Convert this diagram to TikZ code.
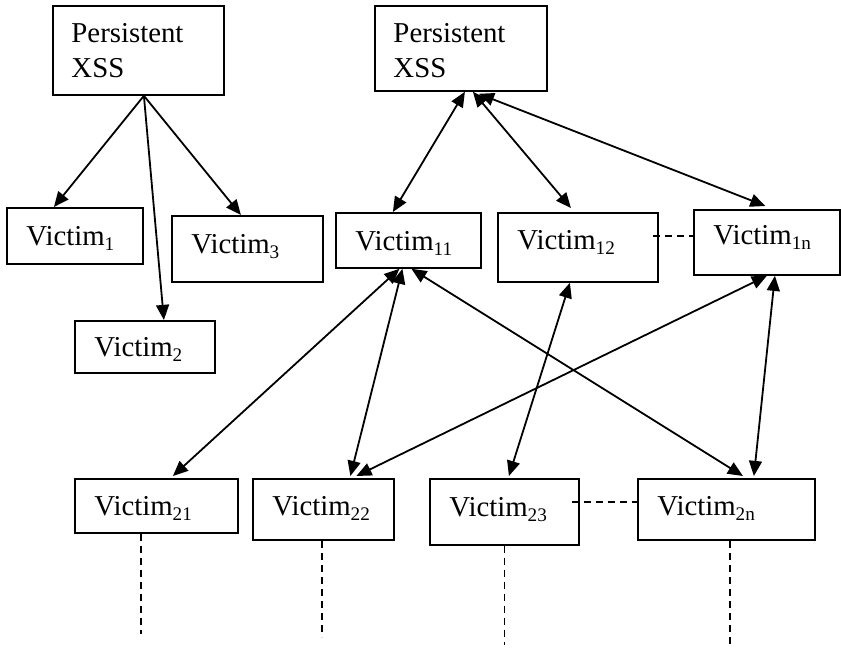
\documentclass[tikz,border=0pt]{standalone}
\usepackage{fontspec}
\setmainfont{Liberation Serif}
\usetikzlibrary{arrows.meta,calc}
\newcommand\pxu{0.41667pt}
\begin{document}
\begin{tikzpicture}[x=0.41667pt,y=-0.41667pt,
  box/.style={draw,line width=0.75pt,rectangle,inner sep=0pt,anchor=north west},
  lbl/.style={anchor=base west,inner sep=0pt,font=\fontsize{12}{14.4}\selectfont},
  arr/.style={line width=0.75pt,-{Triangle[length=6.3pt,width=5.4pt]}},
  darr/.style={line width=0.75pt,{Triangle[length=6.3pt,width=5.4pt]}-{Triangle[length=6.3pt,width=5.4pt]}},
  dline/.style={line width=0.75pt,dash pattern=on 3pt off 2pt}]
\useasboundingbox (0,0) rectangle (841,648);
% boxes
\node[box,minimum width=171*\pxu,minimum height=89*\pxu] (pl) at (52,5) {};
\node[box,minimum width=172*\pxu,minimum height=85*\pxu] (pr) at (374,5) {};
\node[box,minimum width=136*\pxu,minimum height=56*\pxu] (v1) at (6,207) {};
\node[box,minimum width=151*\pxu,minimum height=66*\pxu] (v3) at (171,215) {};
\node[box,minimum width=140*\pxu,minimum height=52*\pxu] (v2) at (74,320) {};
\node[box,minimum width=145*\pxu,minimum height=55*\pxu] (v11) at (335,212) {};
\node[box,minimum width=160*\pxu,minimum height=69*\pxu] (v12) at (497,212) {};
\node[box,minimum width=146*\pxu,minimum height=65*\pxu] (v1n) at (693,209) {};
\node[box,minimum width=163*\pxu,minimum height=54*\pxu] (v21) at (74,478) {};
\node[box,minimum width=141*\pxu,minimum height=61*\pxu] (v22) at (252,478) {};
\node[box,minimum width=149*\pxu,minimum height=66*\pxu] (v23) at (429,478) {};
\node[box,minimum width=177*\pxu,minimum height=61*\pxu] (v2n) at (637,478) {};
% labels
\node[lbl] (tpl1) at ($(pl.north west)+(19,38)$) {Persistent};
\node[lbl] (tpl2) at ($(pl.north west)+(19,73)$) {XSS};
\node[lbl] (tpr1) at ($(pr.north west)+(19,38)$) {Persistent};
\node[lbl] (tpr2) at ($(pr.north west)+(19,73)$) {XSS};
\node[lbl] (tv1) at ($(v1.north west)+(20,39)$) {Victim\textsubscript{1}};
\node[lbl] (tv3) at ($(v3.north west)+(20,39)$) {Victim\textsubscript{3}};
\node[lbl] (tv2) at ($(v2.north west)+(20,37)$) {Victim\textsubscript{2}};
\node[lbl] (tv11) at ($(v11.north west)+(20,39)$) {Victim\textsubscript{11}};
\node[lbl] (tv12) at ($(v12.north west)+(20,38)$) {Victim\textsubscript{12}};
\node[lbl] (tv1n) at ($(v1n.north west)+(20,36)$) {Victim\textsubscript{1n}};
\node[lbl] (tv21) at ($(v21.north west)+(20,38)$) {Victim\textsubscript{21}};
\node[lbl] (tv22) at ($(v22.north west)+(20,38)$) {Victim\textsubscript{22}};
\node[lbl] (tv23) at ($(v23.north west)+(20,39)$) {Victim\textsubscript{23}};
\node[lbl] (tv2n) at ($(v2n.north west)+(20,38)$) {Victim\textsubscript{2n}};
% left tree
\draw[arr] ($(pl.south)+(5.5,0)$) -- ($(v1.north)+(-21,0)$);
\draw[arr] ($(pl.south)+(5.5,0)$) -- ($(v3.north)+(-6.5,0)$);
\draw[arr] ($(pl.south)+(5.5,0)$) -- ($(v2.north)+(19,0)$);
% right tree
\draw[darr] ($(pr.south)+(4,0)$) -- ($(v11.north)+(-15.5,0)$);
\draw[darr] ($(pr.south)+(12,0)$) -- ($(v12.north)+(-7,-4)$);
\draw[darr] ($(pr.south)+(18,2)$) -- ($(v1n.north)+(-1.5,-3)$);
% cross links
\draw[darr] ($(v11.south)+(-9,0)$) -- ($(v21.north)+(16.5,-2)$);
\draw[darr] ($(v11.south)+(-6,0)$) -- ($(v22.north)+(27,-2)$);
\draw[darr] ($(v11.south)+(3,0)$) -- ($(v2n.north)+(16.5,-2)$);
\draw[darr] ($(v12.south)+(-8,0)$) -- ($(v23.north)+(4.5,-2)$);
\draw[darr] ($(v1n.south)+(0,0)$) -- ($(v22.north)+(33,-2)$);
\draw[darr] ($(v1n.south)+(8,0)$) -- ($(v2n.north)+(27.5,-2)$);
% dashed links
\draw[dline] ($(v12.east)+(-6,-11.5)$) -- ($(v1n.west)+(0,-6.5)$);
\draw[dline] ($(v23.east)+(-8,-10)$) -- ($(v2n.west)+(0,-7.5)$);
\coordinate (e21) at ($(v21.south)+(-15.5,100)$);
\coordinate (e22) at ($(v22.south)+(-1.5,96)$);
\coordinate (e23) at ($(v23.south)+(0,99)$);
\coordinate (e2n) at ($(v2n.south)+(3.5,104)$);
\draw[dline] ($(v21.south)+(-15.5,0)$) -- (e21);
\draw[dline] ($(v22.south)+(-1.5,0)$) -- (e22);
\draw[dline] ($(v23.south)+(0,0)$) -- (e23);
\draw[dline] ($(v2n.south)+(3.5,0)$) -- (e2n);
\end{tikzpicture}
\end{document}
